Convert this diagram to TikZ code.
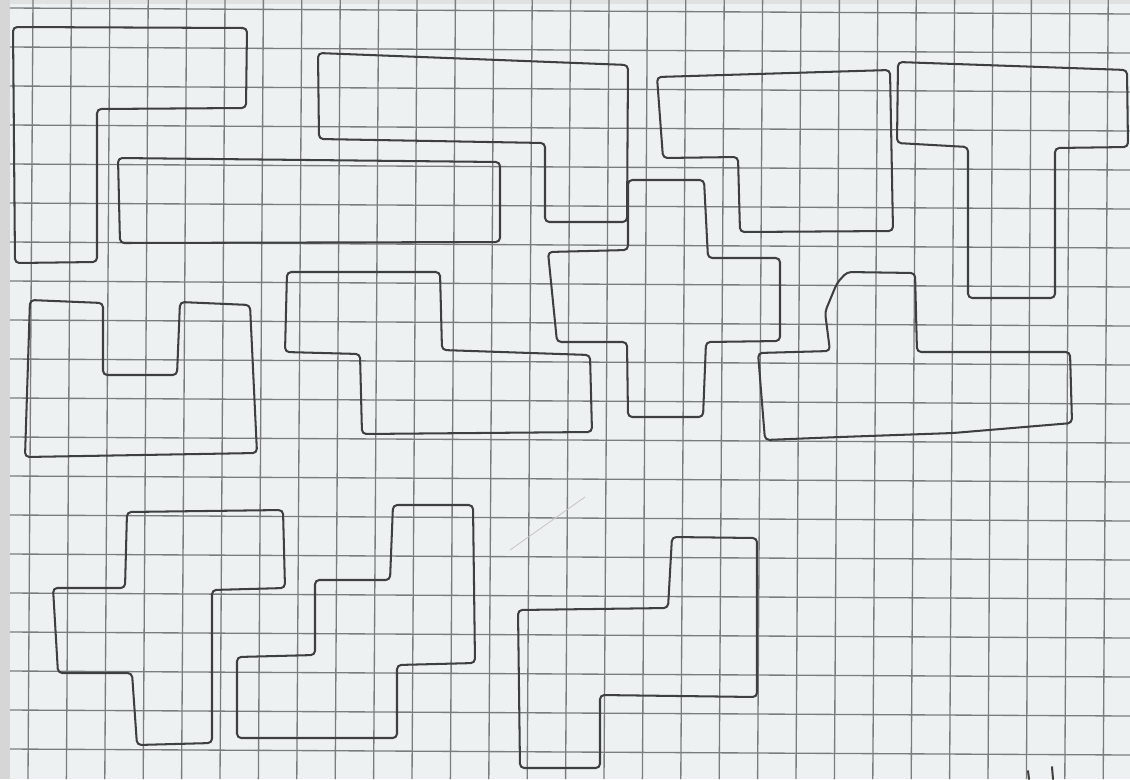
\documentclass[tikz,border=0pt]{standalone}
\usetikzlibrary{calc}
\definecolor{paperbg}{RGB}{238,241,241}
\definecolor{margingrey}{RGB}{214,214,214}
\definecolor{gridgrey}{RGB}{122,125,125}
\definecolor{pencilgrey}{RGB}{62,64,64}
\tikzset{
  gridline/.style = {draw=gridgrey, line width=0.95pt},
  piece/.style    = {draw=pencilgrey, line width=1.45pt, rounded corners=3pt,
                     line join=round, line cap=round},
  faint/.style    = {draw=gray!45, line width=0.6pt, line cap=round},
}

\begin{document}
\begin{tikzpicture}[x=0.025cm, y=-0.025cm]
\useasboundingbox (0,0) rectangle (1130,779);

%% Paper and squared grid
\fill[paperbg] (0,0) rectangle (1130,779);
\fill[margingrey] (0,0) rectangle (10,779);
\fill[margingrey!60!paperbg] (10,0) rectangle (1130,4);
\foreach \j in {0,...,19}
  \draw[gridline] (10,{8+39*\j}) -- (1130,{14+39*\j});
\foreach \i in {0,...,28}
  \draw[gridline] ({33+38.4*\i},0) -- ({28+38.4*\i},779);

%% Top row of pieces
% V
\draw[piece] (13,27) -- (247,28) -- (246,108) -- (97,109) -- (97,262) -- (15,263) -- cycle;
% I
\draw[piece] (118,158) -- (500,162) -- (500,242) -- (120,243) -- cycle;
% L
\draw[piece] (318,53) -- (628,65) -- (627,222) -- (545,222) -- (545,143) -- (319,139) -- cycle;
% P
\draw[piece] (657,77) -- (890,70) -- (893,231) -- (740,232) -- (738,157) -- (663,158) -- cycle;
% T
\draw[piece] (898,62) -- (1127,70) -- (1128,147) -- (1055,148) -- (1055,298)
  -- (968,298) -- (968,147) -- (897,143) -- cycle;

%% Middle row of pieces
% U
\draw[piece] (30,300) -- (103,303) -- (103,375) -- (177,375) -- (180,302)
  -- (250,305) -- (257,453) -- (25,457) -- cycle;
% N
\draw[piece] (287,272) -- (440,272) -- (442,350) -- (590,355) -- (592,432)
  -- (362,434) -- (360,354) -- (285,352) -- cycle;
% X
\draw[piece] (628,180) -- (704,180) -- (708,258) -- (780,258) -- (780,341)
  -- (706,342) -- (703,417) -- (628,417) -- (627,342) -- (557,342)
  -- (548,252) -- (628,250) -- cycle;
% Y
\draw[piece] (847,272) -- (915,273) -- (917,352) -- (1070,352) -- (1072,423)
  -- (953,433) -- (840,437) -- (765,440) -- (758,353) -- (830,351)
  -- (825,312) -- (837,283) -- cycle;

%% Bottom row of pieces
% F
\draw[piece] (127,512) -- (283,510) -- (285,588) -- (212,590) -- (212,743)
  -- (137,745) -- (132,673) -- (58,673) -- (53,588) -- (125,588) -- cycle;
% W
\draw[piece] (393,505) -- (473,505) -- (475,663) -- (397,665) -- (397,738)
  -- (237,738) -- (237,657) -- (315,655) -- (315,580) -- (390,580) -- cycle;
% Z
\draw[piece] (672,537) -- (757,538) -- (757,697) -- (600,695) -- (600,768)
  -- (520,768) -- (518,610) -- (668,608) -- cycle;

%% Stray pencil marks
\draw[faint] (510,550) -- (585,497);
\draw[piece] (1028,771) -- (1029,779);
\draw[piece] (1052,767) -- (1053,779);
\end{tikzpicture}
\end{document}
